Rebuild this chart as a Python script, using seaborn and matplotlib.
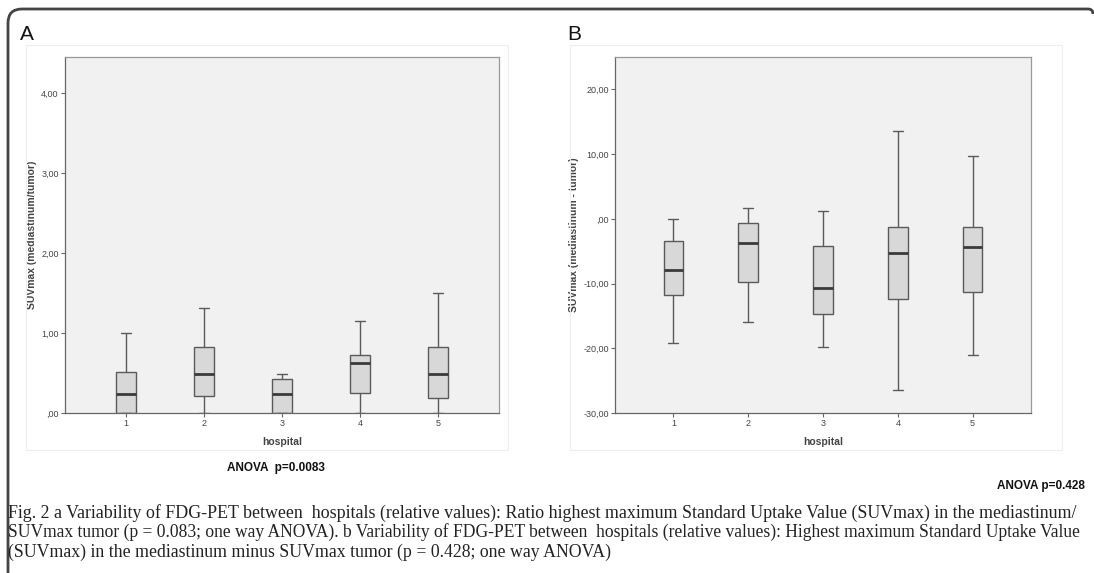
import numpy as np
import pandas as pd
import matplotlib
matplotlib.use("Agg")
import matplotlib.pyplot as plt
import seaborn as sns
from matplotlib.patches import Rectangle
from matplotlib.path import Path
from matplotlib.patches import PathPatch

sns.set_theme(style="white")
plt.rcParams['font.family'] = ['Liberation Sans', 'DejaVu Sans']

# ---- data: five-number summaries (min, Q1, median, Q3, max) ----
hospitals = ["1", "2", "3", "4", "5"]
ratio_h1 = [0.00, 0.00, 0.24, 0.51, 1.00]
ratio_h2 = [0.00, 0.21, 0.49, 0.83, 1.31]
ratio_h3 = [0.00, 0.00, 0.24, 0.42, 0.49]
ratio_h4 = [0.00, 0.25, 0.62, 0.73, 1.15]
ratio_h5 = [0.00, 0.19, 0.49, 0.82, 1.50]

diff_h1 = [-19.2, -11.7, -7.9, -3.5, 0.0]
diff_h2 = [-16.0, -9.7, -3.8, -0.6, 1.6]
diff_h3 = [-19.8, -14.7, -10.7, -4.2, 1.2]
diff_h4 = [-26.5, -12.4, -5.3, -1.2, 13.6]
diff_h5 = [-21.1, -11.3, -4.4, -1.3, 9.7]

ticks_a = [0, 1, 2, 3, 4]
ticklabels_a = [",00", "1,00", "2,00", "3,00", "4,00"]
ticks_b = [-30, -20, -10, 0, 10, 20]
ticklabels_b = ["-30,00", "-20,00", "-10,00", ",00", "10,00", "20,00"]

caption_lines = [
    "Fig. 2 a Variability of FDG-PET between  hospitals (relative values): Ratio highest maximum Standard Uptake Value (SUVmax) in the mediastinum/",
    "SUVmax tumor (p = 0.083; one way ANOVA). b Variability of FDG-PET between  hospitals (relative values): Highest maximum Standard Uptake Value",
    "(SUVmax) in the mediastinum minus SUVmax tumor (p = 0.428; one way ANOVA)",
]
caption_line_ends = [1074, 1081, 607]


def to_long(groups):
    rows = []
    for h, vals in zip(hospitals, groups):
        for v in vals:
            rows.append({"hospital": h, "value": v})
    return pd.DataFrame(rows)


df_a = to_long([ratio_h1, ratio_h2, ratio_h3, ratio_h4, ratio_h5])
df_b = to_long([diff_h1, diff_h2, diff_h3, diff_h4, diff_h5])

W, H = 1094, 573
fig = plt.figure(figsize=(W / 100, H / 100), dpi=100)
fig.patch.set_facecolor("white")

# outer rounded frame (top + left)
r = 14
verts = [(8 / W, 0.0), (8 / W, 1 - (9 + r) / H), (8 / W, 1 - 9 / H), ((8 + r) / W, 1 - 9 / H),
         ((W - 6) / W, 1 - 9 / H), ((W - 1) / W, 1 - 9 / H), ((W - 1) / W, 1 - 14 / H)]
codes = [Path.MOVETO, Path.LINETO, Path.CURVE3, Path.CURVE3, Path.LINETO, Path.CURVE3, Path.CURVE3]
fig.patches.append(PathPatch(Path(verts, codes), transform=fig.transFigure, fill=False,
                             edgecolor="#444444", linewidth=2.0))

# faint SPSS chart frames
for x0, x1 in [(26, 508), (570, 1062)]:
    fig.patches.append(Rectangle((x0 / W, 1 - 450 / H), (x1 - x0) / W, (450 - 45) / H,
                                 transform=fig.transFigure, fill=False, edgecolor="#eeeeee", linewidth=0.8))


def px_axes(l, t, r_, b):
    return fig.add_axes([l / W, 1 - b / H, (r_ - l) / W, (b - t) / H])


ax_a = px_axes(65, 57, 499, 413)
ax_b = px_axes(615, 57, 1031, 413)


def style_panel(ax, df, ylim, ticks, ticklabels, ylabel):
    ax.set_facecolor("#f1f1f1")
    sns.boxplot(data=df, x="hospital", y="value", order=hospitals, ax=ax, width=0.26,
                color="#d8d8d8", linecolor="#5a5a5a", linewidth=1.0, whis=np.inf,
                saturation=1,
                medianprops={"linewidth": 2.0, "color": "#3a3a3a"})
    ax.set_xlim(-0.78, 4.78)
    ax.set_ylim(*ylim)
    ax.set_yticks(ticks)
    ax.set_yticklabels(ticklabels)
    ax.tick_params(axis="both", which="both", length=3, width=0.8, color="#666666",
                   labelsize=6.5, labelcolor="#444444", direction="out", pad=1.5,
                   left=True, bottom=True)
    for s in ax.spines.values():
        s.set_color("#999999")
        s.set_linewidth(0.9)
    ax.spines["left"].set_color("#666666")
    ax.spines["bottom"].set_color("#666666")
    ax.set_xlabel("hospital", fontsize=7.5, fontweight="bold", color="#444444", labelpad=6)
    ax.set_ylabel(ylabel, fontsize=7.5, fontweight="bold", color="#444444", labelpad=3)


style_panel(ax_a, df_a, (0, 4.45), ticks_a, ticklabels_a, "SUVmax (mediastinum/tumor)")
style_panel(ax_b, df_b, (-30, 25), ticks_b, ticklabels_b, "SUVmax (mediastinum - tumor)")

fig.text(20 / W, 1 - 35 / H, "A", fontsize=15, color="#111111", va="center", ha="left")
fig.text(567 / W, 1 - 35 / H, "B", fontsize=15, color="#111111", va="center", ha="left")

fig.text(276 / W, 1 - 468 / H, "ANOVA  p=0.0083", fontsize=8.5, fontweight="bold",
         color="#111111", ha="center", va="center")
fig.text(1085 / W, 1 - 486 / H, "ANOVA p=0.428", fontsize=8.5, fontweight="bold",
         color="#111111", ha="right", va="center")

renderer = fig.canvas.get_renderer()
for i, (line, xend) in enumerate(zip(caption_lines, caption_line_ends)):
    t = fig.text(8 / W, 1 - (513 + 19.5 * i) / H, line, fontsize=12.0,
                 family=["Liberation Serif", "DejaVu Serif"],
                 color="#222222", ha="left", va="center")
    w = t.get_window_extent(renderer).width
    t.set_fontsize(min(13.2, 12.0 * (xend - 8) / w))

fig.savefig("out.png", dpi=100)
